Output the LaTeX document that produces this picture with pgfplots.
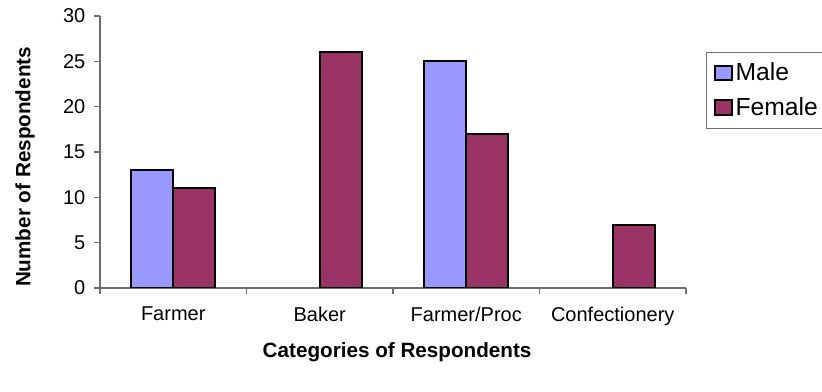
\documentclass[border=0pt]{standalone}
\usepackage{fontspec}
\setmainfont{Liberation Sans}
\usepackage{pgfplots}
\pgfplotsset{compat=1.18}
\definecolor{malebar}{HTML}{9999FF}
\definecolor{femalebar}{HTML}{993366}
\definecolor{axisgray}{HTML}{6E6E6E}

\begin{document}
\begin{tikzpicture}
\useasboundingbox (0,0) rectangle (616.5pt,294pt);
\begin{axis}[
  at={(75pt,78pt)}, anchor=south west,
  width=439.5pt, height=204pt, scale only axis,
  xmin=-0.5, xmax=3.5, ymin=0, ymax=30,
  axis lines=left,
  axis line style={-, draw=axisgray, line width=0.8pt},
  tick style={draw=axisgray, line width=0.8pt},
  tick align=outside,
  major tick length=4.5pt,
  ybar, bar width=0.2867,
  ytick={0,5,...,30},
  xtick={-0.5,0.5,1.5,2.5,3.5},
  x tick label as interval,
  xticklabels={Farmer,Baker,Farmer/Proc,Confectionery},
  /pgf/number format/assume math mode=true,
  tick label style={font=\fontsize{15}{18}\selectfont},
  yticklabel style={xshift=-3pt},
  xticklabel style={yshift=-6pt},
  xlabel={Categories of Respondents},
  ylabel={Number of Respondents},
  label style={font=\bfseries\fontsize{15.5}{18}\selectfont},
  xlabel style={at={(axis description cs:0.507,-0.235)}, anchor=center},
  ylabel style={at={(axis description cs:-0.128,0.445)}, anchor=center},
  legend style={at={(axis description cs:1.034,0.868)}, anchor=north west,
    draw=axisgray, line width=0.8pt, font=\fontsize{18.5}{22}\selectfont,
    row sep=7pt, inner sep=6pt, cells={anchor=west}},
  legend image code/.code={\draw[#1, line width=1.4pt] (0pt,-5.5pt) rectangle (12.5pt,5.5pt);},
]
\addplot[fill=malebar, draw=black, line width=1.5pt, bar shift=-0.1433]
  coordinates {(0,13) (2,25)};
\addplot[fill=femalebar, draw=black, line width=1.5pt, bar shift=0.1433]
  coordinates {(0,11) (1,26) (2,17) (3,7)};
\legend{Male,Female}
\end{axis}
\end{tikzpicture}
\end{document}
